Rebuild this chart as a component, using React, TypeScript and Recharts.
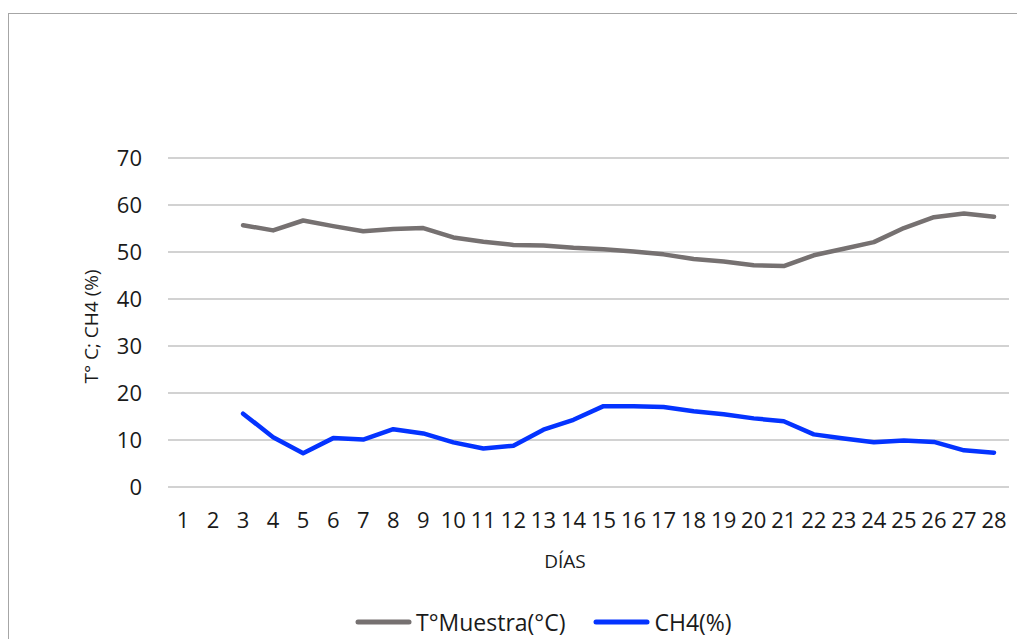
import React from 'react';
import { LineChart, Line, XAxis, YAxis, CartesianGrid, Legend, Label } from 'recharts';

const days = [
  '1', '2', '3', '4', '5', '6', '7', '8', '9', '10', '11', '12', '13', '14',
  '15', '16', '17', '18', '19', '20', '21', '22', '23', '24', '25', '26', '27', '28',
];

// temperatura de la muestra (°C), sin lectura los días 1 y 2
const tempMuestra = [
  null, null, 55.7, 54.6, 56.7, 55.5, 54.4, 54.9, 55.1, 53.1, 52.2, 51.5, 51.4, 50.9,
  50.6, 50.1, 49.5, 48.5, 48.0, 47.2, 47.0, 49.3, 50.7, 52.1, 55.1, 57.4, 58.2, 57.5,
];

// metano (%)
const ch4 = [
  null, null, 15.6, 10.6, 7.2, 10.4, 10.1, 12.3, 11.4, 9.5, 8.2, 8.8, 12.2, 14.3,
  17.2, 17.2, 17.0, 16.1, 15.5, 14.6, 14.0, 11.2, 10.3, 9.5, 9.9, 9.6, 7.8, 7.3,
];

const yTicks = [0, 10, 20, 30, 40, 50, 60, 70];

const seriesInfo = [
  { key: 'temp', name: 'T°Muestra(°C)', color: '#767171' },
  { key: 'ch4', name: 'CH4(%)', color: '#0433ff' },
];

const data = days.map((d, i) => ({ day: d, temp: tempMuestra[i], ch4: ch4[i] }));

const FONT = '"Open Sans", "Noto Sans", sans-serif';
const TEXT = '#1a1a1a';

const LegendBox = () => (
  <div style={{ display: 'flex', alignItems: 'center', fontFamily: FONT, fontSize: 23, color: TEXT, lineHeight: '30px', whiteSpace: 'nowrap' }}>
    {seriesInfo.map((s, i) => (
      <div key={s.key} style={{ display: 'flex', alignItems: 'center', marginRight: i === 0 ? 28 : 0 }}>
        <svg width={57} height={10} style={{ marginRight: 4 }}>
          <line x1={3} y1={5} x2={54} y2={5} stroke={s.color} strokeWidth={5} strokeLinecap="round" />
        </svg>
        <span>{s.name}</span>
      </div>
    ))}
  </div>
);

export default function App() {
  return (
    <div style={{ position: 'relative', width: 1017, height: 639, overflow: 'hidden', fontFamily: FONT }}>
      <style>{'body{margin:0;overflow:hidden}'}</style>
      <div
        style={{
          position: 'absolute',
          left: 8,
          top: 13,
          width: 1040,
          height: 700,
          border: '1px solid #a6a6a6',
          boxSizing: 'border-box',
        }}
      />
      <div style={{ position: 'absolute', left: 8, top: 8 }}>
        <LineChart width={1009} height={631} data={data} margin={{ top: 150, right: 8, left: 0, bottom: 102 }}>
          <CartesianGrid horizontal vertical={false} stroke="#a6a6a6" strokeWidth={1.2} />
          <XAxis
            dataKey="day"
            interval={0}
            height={50}
            padding={{ left: 15, right: 15 }}
            tickSize={0}
            tickMargin={25}
            axisLine={false}
            tick={{ fontSize: 22, fill: TEXT, fontFamily: FONT }}
          >
            <Label
              position="bottom"
              content={(props: any) => {
                const vb = props.viewBox || {};
                return (
                  <text
                    x={557}
                    y={vb.y + vb.height + 24}
                    textAnchor="middle"
                    dominantBaseline="central"
                    fontSize={19}
                    fill={TEXT}
                    fontFamily={FONT}
                  >
                    DÍAS
                  </text>
                );
              }}
            />
          </XAxis>
          <YAxis
            width={160}
            domain={[0, 70]}
            ticks={yTicks}
            interval={0}
            tickSize={0}
            tickMargin={26}
            axisLine={false}
            tick={{ fontSize: 22, fill: TEXT, fontFamily: FONT }}
          >
            <Label
              position="insideLeft"
              content={(props: any) => {
                const vb = props.viewBox || {};
                const cx = 83;
                const cy = vb.y + vb.height / 2 + 4;
                return (
                  <text
                    x={cx}
                    y={cy}
                    transform={`rotate(-90, ${cx}, ${cy})`}
                    textAnchor="middle"
                    dominantBaseline="central"
                    fontSize={19}
                    fill={TEXT}
                    fontFamily={FONT}
                  >
                    T° C; CH4 (%)
                  </text>
                );
              }}
            />
          </YAxis>
          <Legend
            layout="horizontal"
            verticalAlign="middle"
            align="center"
            wrapperStyle={{ top: 599, left: 347, width: 'auto', height: 30 }}
            content={() => <LegendBox />}
          />
          {seriesInfo.map((s) => (
            <Line
              key={s.key}
              type="linear"
              dataKey={s.key}
              name={s.name}
              stroke={s.color}
              strokeWidth={4.5}
              strokeLinecap="round"
              strokeLinejoin="round"
              dot={false}
              activeDot={false}
              isAnimationActive={false}
            />
          ))}
        </LineChart>
      </div>
    </div>
  );
}
